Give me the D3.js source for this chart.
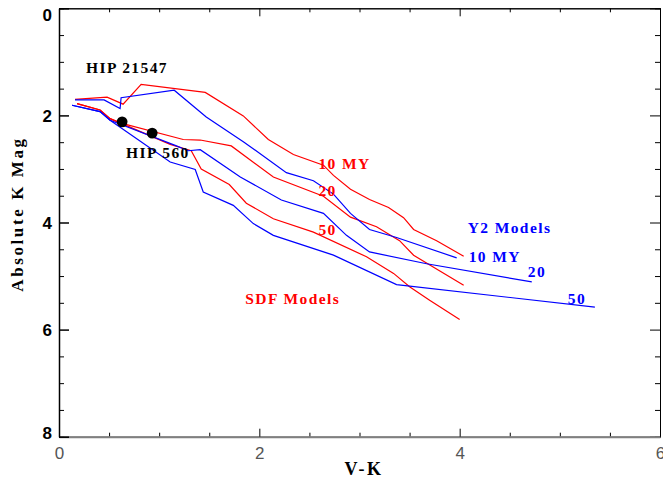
<!DOCTYPE html>
<html>
<head>
<meta charset="utf-8">
<script src="https://cdn.jsdelivr.net/npm/d3@7"></script>
<style>
    body { margin: 0; background: #fff; }
    .lbl { font-family: "Liberation Serif", serif; font-weight: bold; font-size: 15.5px; letter-spacing: 1.4px; }
</style>
</head>
<body>
<div id="chart"></div>
<script>
// isochrones: [V-K, M_K]
var sdf10 = [[0.16, 1.70], [0.48, 1.66], [0.64, 1.79], [0.82, 1.42], [1.46, 1.57], [1.84, 2.01],
    [2.09, 2.45], [2.34, 2.73], [2.64, 2.93], [2.74, 3.12], [2.91, 3.38], [3.10, 3.57], [3.29, 3.72],
    [3.44, 3.91], [3.54, 4.13], [3.77, 4.34], [4.04, 4.63]];
var sdf20 = [[0.18, 1.78], [0.41, 1.90], [0.51, 2.06], [0.61, 2.14], [1.24, 2.45], [1.41, 2.46],
    [1.72, 2.57], [2.14, 3.15], [2.64, 3.51], [2.91, 3.90], [3.17, 4.08], [3.40, 4.34], [3.54, 4.61],
    [4.04, 5.17]];
var sdf50 = [[0.18, 1.78], [0.41, 1.90], [0.51, 2.06], [0.61, 2.14], [1.11, 2.54], [1.32, 2.66],
    [1.42, 3.00], [1.70, 3.29], [1.87, 3.64], [2.14, 3.93], [2.54, 4.18], [3.07, 4.64], [3.34, 4.95],
    [3.50, 5.20], [3.70, 5.45], [4.00, 5.81]];
var y2_10 = [[0.16, 1.71], [0.45, 1.71], [0.61, 1.87], [0.62, 1.67], [1.15, 1.53], [1.47, 2.03],
    [1.84, 2.49], [2.27, 3.07], [2.54, 3.22], [2.74, 3.47], [2.91, 3.83], [3.10, 4.13], [3.37, 4.28],
    [3.97, 4.66]];
var y2_20 = [[0.13, 1.81], [0.41, 1.93], [0.51, 2.09], [1.16, 2.56], [1.29, 2.66], [1.41, 2.64],
    [1.81, 3.15], [2.22, 3.58], [2.64, 3.83], [2.87, 4.24], [3.10, 4.55], [3.67, 4.77], [4.72, 5.11]];
var y2_50 = [[0.13, 1.81], [0.41, 1.93], [0.51, 2.09], [1.11, 2.87], [1.36, 3.01], [1.44, 3.43],
    [1.74, 3.68], [1.94, 4.02], [2.14, 4.24], [2.74, 4.61], [3.37, 5.16], [5.35, 5.58]];

var stars = [{name: "HIP 21547", vk: 0.63, mk: 2.12}, {name: "HIP 560", vk: 0.93, mk: 2.33}];

var xMajor = [0, 2, 4, 6];
var yMajor = [0, 2, 4, 6, 8];

// text labels: [text, V-K, M_K, colour]
var notes = [
    ["HIP 21547", 0.27, 1.21, "black"],
    ["HIP 560", 0.67, 2.80, "black"],
    ["10 MY", 2.59, 3.01, "red"],
    ["20", 2.59, 3.51, "red"],
    ["50", 2.59, 4.23, "red"],
    ["SDF Models", 1.86, 5.52, "red"],
    ["Y2 Models", 4.08, 4.20, "blue"],
    ["10 MY", 4.09, 4.73, "blue"],
    ["20", 4.68, 5.01, "blue"],
    ["50", 5.08, 5.52, "blue"]
];

var width = 663, height = 483;
var padL = 59, padR = 660, padT = 8.3, padB = 436.7;

var svg = d3.select("#chart").append("svg")
    .attr("width", width)
    .attr("height", height)
    .style("font-family", "Liberation Sans, sans-serif");

var xScale = d3.scaleLinear().domain([0, 6]).range([padL, padR]);
var yScale = d3.scaleLinear().domain([0, 8]).range([padT, padB]);
var fmt = d3.format("d");

var minors = function (lo, hi) {
    var out = [];
    for (var v = lo; v <= hi; v += 0.5) if (v % 2 !== 0) out.push(v);
    return out;
};

// minor ticks
svg.append("g").attr("transform", "translate(" + padL + ",0)")
    .call(d3.axisLeft(yScale).tickValues(minors(0, 8)).tickSize(-5).tickFormat(""));
svg.append("g").attr("transform", "translate(" + padR + ",0)")
    .call(d3.axisRight(yScale).tickValues(minors(0, 8)).tickSize(-5).tickFormat(""));
svg.append("g").attr("transform", "translate(0," + padB + ")")
    .call(d3.axisBottom(xScale).tickValues(minors(0, 6)).tickSize(-4).tickFormat(""));
svg.append("g").attr("transform", "translate(0," + padT + ")")
    .call(d3.axisTop(xScale).tickValues(minors(0, 6)).tickSize(-4).tickFormat(""));

// major ticks
svg.append("g").attr("transform", "translate(0," + padT + ")")
    .call(d3.axisTop(xScale).tickValues(xMajor).tickSize(-8).tickSizeOuter(0).tickFormat(""));
svg.append("g").attr("transform", "translate(" + padR + ",0)")
    .call(d3.axisRight(yScale).tickValues(yMajor).tickSize(-10).tickSizeOuter(0).tickFormat(""));

var xAxis = svg.append("g").attr("transform", "translate(0," + padB + ")")
    .call(d3.axisBottom(xScale).tickValues(xMajor).tickSize(-8).tickSizeOuter(0)
        .tickPadding(10).tickFormat(fmt));
xAxis.select(".domain").attr("stroke", "#808080").attr("stroke-width", 2);
xAxis.selectAll("text")
    .style("font-family", "Liberation Sans, sans-serif")
    .style("font-size", "17px")
    .attr("fill", "#555");

var yAxis = svg.append("g").attr("transform", "translate(" + padL + ",0)")
    .call(d3.axisLeft(yScale).tickValues(yMajor).tickSize(-10).tickSizeOuter(0)
        .tickPadding(7).tickFormat(fmt));
yAxis.select(".domain").attr("stroke-width", 1.5);
yAxis.selectAll(".tick line").attr("stroke-width", 1.5);
yAxis.selectAll("text")
    .style("font-family", "Liberation Sans, sans-serif")
    .style("font-size", "17px")
    .style("font-weight", "bold")
    .attr("dy", function (d) { return d === 0 ? "0.7em" : (d === 8 ? "0.1em" : "0.35em"); });

// axis titles
svg.append("text")
    .attr("class", "lbl")
    .attr("x", 364).attr("y", 475)
    .attr("text-anchor", "middle")
    .style("font-size", "18px").style("letter-spacing", "2.5px")
    .text("V-K");

svg.append("text")
    .attr("class", "lbl")
    .attr("transform", "translate(23,214) rotate(-90)")
    .attr("text-anchor", "middle")
    .style("font-size", "17px").style("letter-spacing", "2.6px")
    .text("Absolute K Mag");

// isochrone lines
var line = d3.line()
    .x(function (d) { return xScale(d[0]); })
    .y(function (d) { return yScale(d[1]); });

var tracks = [
    {data: sdf10, color: "red"}, {data: sdf20, color: "red"}, {data: sdf50, color: "red"},
    {data: y2_10, color: "blue"}, {data: y2_20, color: "blue"}, {data: y2_50, color: "blue"}
];

svg.append("g").selectAll("path")
    .data(tracks)
    .enter().append("path")
    .attr("d", function (d) { return line(d.data); })
    .attr("fill", "none")
    .attr("stroke", function (d) { return d.color; })
    .attr("stroke-width", 1.2);

// stars
svg.append("g").selectAll("circle")
    .data(stars)
    .enter().append("circle")
    .attr("cx", function (d) { return xScale(d.vk); })
    .attr("cy", function (d) { return yScale(d.mk); })
    .attr("r", 5.4)
    .attr("fill", "black");

// labels
svg.append("g").selectAll("text")
    .data(notes)
    .enter().append("text")
    .attr("class", "lbl")
    .attr("x", function (d) { return xScale(d[1]); })
    .attr("y", function (d) { return yScale(d[2]); })
    .attr("fill", function (d) { return d[3]; })
    .text(function (d) { return d[0]; });
</script>
</body>
</html>
